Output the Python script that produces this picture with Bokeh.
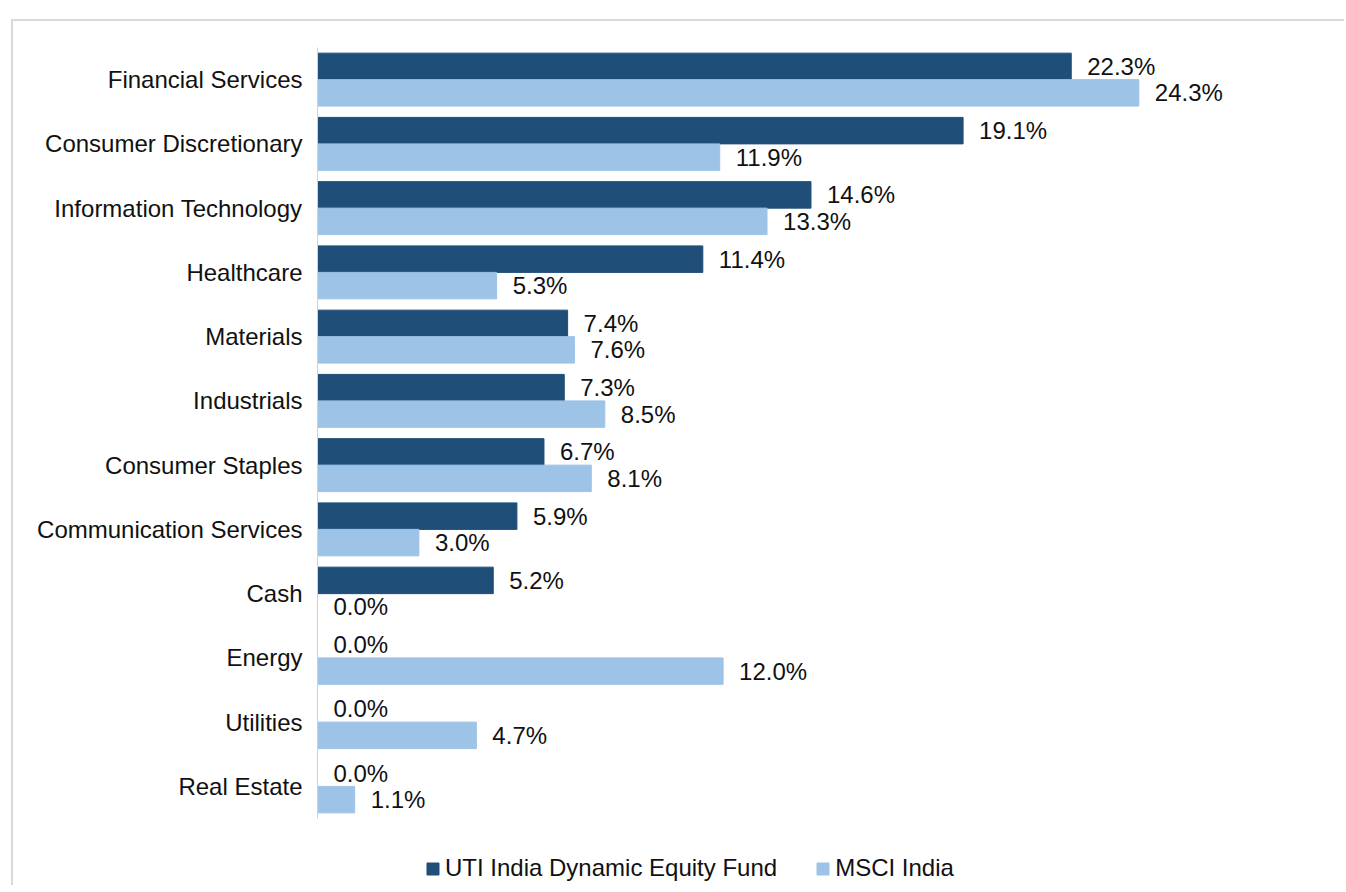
from bokeh.plotting import figure
from bokeh.models import Range1d, FixedTicker, Legend, LegendItem, ColumnDataSource
from bokeh.transform import dodge
from bokeh.core.properties import value
from bokeh.embed import file_html
from bokeh.resources import INLINE

categories = ["Financial Services", "Consumer Discretionary", "Information Technology",
              "Healthcare", "Materials", "Industrials", "Consumer Staples",
              "Communication Services", "Cash", "Energy", "Utilities", "Real Estate"]
fund = [22.3, 19.1, 14.6, 11.4, 7.4, 7.3, 6.7, 5.9, 5.2, 0.0, 0.0, 0.0]
msci = [24.3, 11.9, 13.3, 5.3, 7.6, 8.5, 8.1, 3.0, 0.0, 12.0, 4.7, 1.1]
series_names = ["UTI India Dynamic Equity Fund", "MSCI India"]
colors = ["#1F4E79", "#9DC3E6"]

FONT = value("Liberation Sans")
FS = "24px"
TXT = "#111111"

n = len(categories)
pos = [n - 1 - i for i in range(n)]  # first category on top

src = ColumnDataSource(dict(
    y=pos,
    fund=fund,
    msci=msci,
    fund_lbl=[f"{v:.1f}%" for v in fund],
    msci_lbl=[f"{v:.1f}%" for v in msci],
))

# vertical layout: one category band = 64.25 px; extra room below bars for the legend
band_px = 64.25
extra_below = 67 / band_px

p = figure(width=1333, height=866, output_backend="svg", toolbar_location=None,
           x_range=Range1d(0, 30),
           y_range=Range1d(-0.5 - extra_below, n - 0.5),
           x_axis_location=None,
           min_border_left=304, min_border_top=26, min_border_bottom=2, min_border_right=15)
p.margin = (19, 0, 0, 11)
p.styles = {"border-top": "2px solid #d9d9d9", "border-left": "2px solid #d9d9d9"}

p.outline_line_color = None
p.xgrid.visible = False
p.ygrid.visible = False

off = 0.206
h = 0.412
r1 = p.hbar(y=dodge("y", off), right="fund", left=0, height=h, color=colors[0], source=src)
r2 = p.hbar(y=dodge("y", -off), right="msci", left=0, height=h, color=colors[1], source=src)

p.text(x="fund", y=dodge("y", off), text="fund_lbl", source=src,
       x_offset=16, text_baseline="middle", text_align="left",
       text_font=FONT, text_font_size=FS, text_color=TXT)
p.text(x="msci", y=dodge("y", -off), text="msci_lbl", source=src,
       x_offset=16, text_baseline="middle", text_align="left",
       text_font=FONT, text_font_size=FS, text_color=TXT)

ax = p.yaxis[0]
ax.ticker = FixedTicker(ticks=pos)
ax.major_label_overrides = {pv: c for pv, c in zip(pos, categories)}
ax.bounds = (-0.5, n - 0.5)
ax.axis_line_color = "#d0d0d0"
ax.axis_line_width = 1
ax.major_tick_line_color = None
ax.minor_tick_line_color = None
ax.major_tick_out = 0
ax.major_label_standoff = 15
ax.major_label_text_font = "Liberation Sans"
ax.major_label_text_font_size = FS
ax.major_label_text_color = TXT

legend = Legend(items=[LegendItem(label=series_names[0], renderers=[r1]),
                       LegendItem(label=series_names[1], renderers=[r2])],
                orientation="horizontal", location=(108, 3),
                spacing=38, label_standoff=5, glyph_width=15, glyph_height=15,
                padding=0, margin=0, border_line_color=None, background_fill_alpha=0,
                label_text_font="Liberation Sans", label_text_font_size=FS,
                label_text_color=TXT, label_text_baseline="middle")
p.add_layout(legend, "center")

open("out.html", "w").write(file_html(p, INLINE))
